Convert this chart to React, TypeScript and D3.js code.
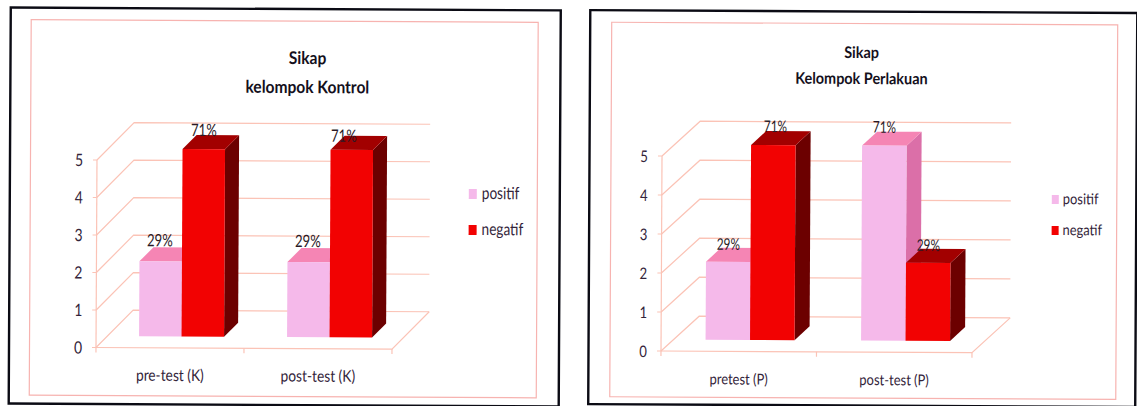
import React from "react";
import * as d3 from "d3";

// Attitude survey results for the control and treatment groups
const seriesNames = ["positif", "negatif"];
const valueTicks = [0, 1, 2, 3, 4, 5];

const controlTitle = ["Sikap", "kelompok Kontrol"];
const controlCategories = ["pre-test (K)", "post-test (K)"];
const controlPositif = [2, 2];
const controlNegatif = [5, 5];
const controlPositifLabels = ["29%", "29%"];
const controlNegatifLabels = ["71%", "71%"];

const treatmentTitle = ["Sikap", "Kelompok Perlakuan"];
const treatmentCategories = ["pretest (P)", "post-test (P)"];
const treatmentPositif = [2, 5];
const treatmentNegatif = [5, 2];
const treatmentPositifLabels = ["29%", "71%"];
const treatmentNegatifLabels = ["71%", "29%"];

const palette = [
  { front: "#f5b9ea", top: "#f585b4", side: "#db6fa8" },
  { front: "#f20202", top: "#a20000", side: "#6c0000" },
];
const GRID = "#fbc3b6";
const FRAME = "#f7b3b0";
const INK = "#33243a";
const FONT = "Lato, 'Noto Sans', sans-serif";

// Lato narrowed horizontally to give the tall, tight look of the chart lettering
function Txt(props: {
  x: number;
  y: number;
  squeeze: number;
  size: number;
  anchor?: string;
  weight?: number;
  fill: string;
  children: React.ReactNode;
}) {
  return (
    <text
      transform={`translate(${props.x} ${props.y}) scale(${props.squeeze} 1)`}
      textAnchor={props.anchor ?? "middle"}
      fontSize={props.size}
      fontWeight={props.weight ?? 400}
      fill={props.fill}
    >
      {props.children}
    </text>
  );
}

type PanelProps = {
  title: string[];
  categories: string[];
  values: number[][];
  labels: string[][];
  labelNudge: number[][][];
  origin: [number, number];
  plotWidth: number;
  unit: number;
  depth: [number, number];
  barDepth: [number, number];
  barInset: number;
  barWidth: number;
  border: [number, number, number, number];
  frame: [number, number, number, number];
  titleX: number;
  titleY: number[];
  titleSize: number;
  titleSqueeze: number;
  legend: { x: number; y: number[]; w: number; h: number; size: number; squeeze: number; gap: number };
  tickSize: number;
  tickSqueeze: number;
  catSize: number;
  catSqueeze: number;
  valueSize: number;
  valueSqueeze: number;
};

function Panel(p: PanelProps) {
  const [ox, oy] = p.origin;
  const [dx, dy] = p.depth;
  const [bdx, bdy] = p.barDepth;
  const y = d3.scaleLinear().domain([0, 5]).range([oy, oy - 5 * p.unit]);
  const x0 = d3.scaleBand<string>().domain(p.categories).range([ox, ox + p.plotWidth]);
  const x1 = d3
    .scaleBand<string>()
    .domain(seriesNames)
    .range([p.barInset, p.barInset + 2 * p.barWidth]);
  const floorShift = (dx - bdx) / 2;
  const line = d3.line();
  const poly = (pts: [number, number][]) => line(pts) + "Z";

  return (
    <g transform={`rotate(0.3 ${ox} ${oy})`} fontFamily={FONT}>
      <rect x={p.border[0]} y={p.border[1]} width={p.border[2]} height={p.border[3]} fill="#fff" stroke="#0b0b14" strokeWidth={2.4} />
      <rect x={p.frame[0]} y={p.frame[1]} width={p.frame[2]} height={p.frame[3]} fill="#fff" stroke={FRAME} strokeWidth={1.2} />

      {p.title.map((t, i) => (
        <Txt key={t} x={p.titleX} y={p.titleY[i]} size={p.titleSize} squeeze={p.titleSqueeze} weight={700} fill="#14101c">
          {t}
        </Txt>
      ))}

      {/* side wall, back wall and floor */}
      {valueTicks.map((v) => (
        <path
          key={v}
          d={line([
            [ox, y(v)],
            [ox + dx, y(v) - dy],
            [ox + p.plotWidth + dx, y(v) - dy],
          ]) as string}
          fill="none"
          stroke={GRID}
          strokeWidth={1.2}
        />
      ))}
      <path
        d={line([
          [ox, oy],
          [ox + p.plotWidth, oy],
          [ox + p.plotWidth + dx, oy - dy],
        ]) as string}
        fill="none"
        stroke={GRID}
        strokeWidth={1.2}
      />
      <line x1={ox} x2={ox} y1={y(0)} y2={y(5)} stroke={GRID} strokeWidth={1.2} />

      {/* axis ticks */}
      {valueTicks.map((v) => (
        <g key={v}>
          <line x1={ox - 4} x2={ox} y1={y(v)} y2={y(v)} stroke={GRID} strokeWidth={1.2} />
          <Txt x={ox - 18} y={y(v) + 6} size={p.tickSize} squeeze={p.tickSqueeze} fill={INK}>
            {v}
          </Txt>
        </g>
      ))}
      {[ox, ...p.categories.map((c) => (x0(c) as number) + x0.bandwidth())].map((tx) => (
        <line key={tx} x1={tx} x2={tx} y1={oy} y2={oy + 5} stroke={GRID} strokeWidth={1.2} />
      ))}
      {p.categories.map((c) => (
        <Txt
          key={c}
          x={(x0(c) as number) + x0.bandwidth() / 2}
          y={oy + 33}
          size={p.catSize}
          squeeze={p.catSqueeze}
          fill={INK}
        >
          {c}
        </Txt>
      ))}

      {/* 3-D columns */}
      {p.categories.map((c, ci) =>
        seriesNames.map((s, si) => {
          const left = (x0(c) as number) + (x1(s) as number) + floorShift;
          const right = left + x1.bandwidth();
          const base = oy - floorShift;
          const top = base - (oy - y(p.values[si][ci]));
          return (
            <g key={s}>
              <path
                d={poly([
                  [right, top],
                  [right + bdx, top - bdy],
                  [right + bdx, base - bdy],
                  [right, base],
                ])}
                fill={palette[si].side}
              />
              <path
                d={poly([
                  [left, top],
                  [left + bdx, top - bdy],
                  [right + bdx, top - bdy],
                  [right, top],
                ])}
                fill={palette[si].top}
              />
              <rect x={left} y={top} width={right - left} height={base - top} fill={palette[si].front} />
            </g>
          );
        })
      )}

      {/* value labels sit above every column */}
      {p.categories.map((c, ci) =>
        seriesNames.map((s, si) => {
          const left = (x0(c) as number) + (x1(s) as number) + floorShift;
          const top = oy - floorShift - (oy - y(p.values[si][ci]));
          const [nx, ny] = p.labelNudge[si][ci];
          return (
            <Txt
              key={c + s}
              x={left + x1.bandwidth() / 2 + nx}
              y={top + ny}
              size={p.valueSize}
              squeeze={p.valueSqueeze}
              fill="#2a1a26"
            >
              {p.labels[si][ci]}
            </Txt>
          );
        })
      )}

      {/* legend */}
      {seriesNames.map((s, i) => (
        <g key={s}>
          <rect x={p.legend.x} y={p.legend.y[i]} width={p.legend.w} height={p.legend.h} fill={palette[i].front} />
          <Txt
            x={p.legend.x + p.legend.w + p.legend.gap}
            y={p.legend.y[i] + p.legend.h}
            size={p.legend.size}
            squeeze={p.legend.squeeze}
            anchor="start"
            fill={INK}
          >
            {s}
          </Txt>
        </g>
      ))}
    </g>
  );
}

export default function App() {
  return (
    <svg width={1137} height={406} style={{ position: "absolute", left: 0, top: 0, background: "#fff" }}>
      <Panel
        title={controlTitle}
        categories={controlCategories}
        values={[controlPositif, controlNegatif]}
        labels={[controlPositifLabels, controlNegatifLabels]}
        labelNudge={[
          [[-1, -15], [-1, -15]],
          [[0, -13], [-8, -8]],
        ]}
        origin={[96, 347.5]}
        plotWidth={296}
        unit={37.5}
        depth={[37, 37.5]}
        barDepth={[14, 14]}
        barInset={31.5}
        barWidth={42.5}
        border={[9, 8, 550, 396]}
        frame={[29.5, 20, 507, 375.5]}
        titleX={306}
        titleY={[63, 92]}
        titleSize={17.5}
        titleSqueeze={0.89}
        legend={{ x: 468, y: [187, 223], w: 8, h: 10, size: 17, squeeze: 0.8, gap: 5 }}
        tickSize={17}
        tickSqueeze={0.82}
        catSize={16}
        catSqueeze={0.86}
        valueSize={17}
        valueSqueeze={0.77}
      />
      <Panel
        title={treatmentTitle}
        categories={treatmentCategories}
        values={[treatmentPositif, treatmentNegatif]}
        labels={[treatmentPositifLabels, treatmentNegatifLabels]}
        labelNudge={[
          [[0, -12], [0, -13]],
          [[2, -13], [0, -12]],
        ]}
        origin={[661, 351]}
        plotWidth={311}
        unit={39}
        depth={[38, 35]}
        barDepth={[15, 14]}
        barInset={33}
        barWidth={44.5}
        border={[588.5, 10.5, 547, 394]}
        frame={[610, 22.5, 506, 374.5]}
        titleX={860}
        titleY={[57, 83]}
        titleSize={16}
        titleSqueeze={0.9}
        legend={{ x: 1051, y: [193, 224], w: 7, h: 9, size: 15, squeeze: 0.86, gap: 4 }}
        tickSize={16}
        tickSqueeze={0.82}
        catSize={15}
        catSqueeze={0.865}
        valueSize={16}
        valueSqueeze={0.74}
      />
    </svg>
  );
}
